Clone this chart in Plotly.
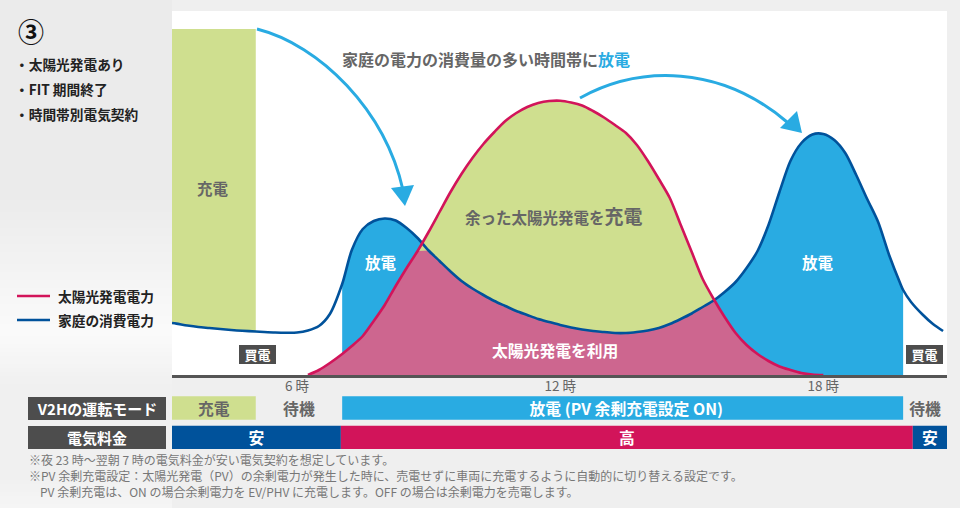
import numpy as np
import plotly.graph_objects as go

W, H = 960, 508
FONT = "Noto Sans CJK JP"

BLUE = "#29abe2"
NAVY = "#00529b"
CRIMSON = "#d2145a"
GREEN = "#cfdf8f"
PINK = "#cd668f"
DARK = "#4d4d4d"
GRAY = "#666666"

# hour of day, shared by both curves
hours = [3.15, 3.25, 3.5, 3.75, 4, 4.25, 4.5, 4.75, 5.06, 5.25, 5.5, 5.75, 6, 6.25, 6.5, 6.75,
         7.03, 7.25, 7.5, 7.75, 8, 8.25, 8.5, 8.75, 9, 9.25, 9.5, 9.75, 10, 10.25, 10.5, 10.75,
         11, 11.25, 11.5, 11.75, 12, 12.25, 12.5, 12.75, 13, 13.25, 13.5, 13.75, 14, 14.25, 14.5, 14.75,
         15, 15.25, 15.5, 15.75, 16, 16.25, 16.5, 16.75, 17, 17.25, 17.5, 17.75, 18, 18.25, 18.5, 18.75,
         19, 19.25, 19.5, 19.75, 19.82, 20, 20.25, 20.5, 20.73]

consumption = [.52, .514, .495, .48, .47, .46, .45, .442, .435, .43, .425, .423, .425, .445, .49, .61,
               .91, 1.25, 1.46, 1.54, 1.565, 1.545, 1.47, 1.37, 1.245, 1.14, 1.035, .94, .865, .80, .74, .69,
               .64, .60, .56, .53, .50, .475, .455, .44, .43, .42, .42, .43, .445, .47, .51, .56,
               .615, .68, .745, .83, .93, 1.07, 1.24, 1.50, 1.83, 2.14, 2.32, 2.405, 2.41, 2.35, 2.22, 2.00,
               1.76, 1.53, 1.20, .92, .85, .73, .61, .51, .44]

solar = [0, 0, 0, 0, 0, 0, 0, 0, 0, 0, 0, 0, 0, 0, .05, .12,
         .21, .29, .39, .54, .70, .89, 1.07, 1.24, 1.43, 1.63, 1.83, 2.01, 2.17, 2.31, 2.43, 2.54,
         2.62, 2.68, 2.72, 2.74, 2.743, 2.725, 2.695, 2.64, 2.575, 2.50, 2.42, 2.30, 2.14, 1.96, 1.77, 1.50,
         1.23, .96, .76, .58, .42, .30, .21, .14, .085, .05, .02, .005, 0, 0, 0, 0,
         0, 0, 0, 0, 0, 0, 0, 0, 0]

charge_level = 3.46

hour_ticks = [6, 12, 18]
hour_labels = ["6 時", "12 時", "18 時"]

mode_names = ["充電", "待機", "\u00a0\u00a0放電 (PV 余剰充電設定 ON)", "待機"]
mode_starts = [3.15, 5.06, 7.03, 19.82]
mode_ends = [5.06, 7.03, 19.82, 20.82]
mode_colors = [GREEN, "rgba(0,0,0,0)", BLUE, "rgba(0,0,0,0)"]
mode_text = [GRAY, GRAY, "white", GRAY]

price_names = ["安", "高", "安"]
price_starts = [3.15, 7.0, 20.04]
price_ends = [7.0, 20.04, 20.82]
price_colors = ["#00529b", "#d2145a", "#00529b"]

bg_y = [0, 200, 330, 385, 470, 508]
bg_left = [235, 236, 251, 240, 240, 246]


def px(x):
    return x / W


def py(y):
    return 1 - y / H


def path(*parts):
    out = []
    for p in parts:
        if isinstance(p, str):
            out.append(p)
        else:
            out.append(f"{px(p[0]):.5f} {py(p[1]):.5f}")
    return " ".join(out)


def rect(x0, y0, x1, y1, color):
    return dict(type="rect", xref="paper", yref="paper", x0=px(x0), x1=px(x1), y0=py(y0), y1=py(y1),
                fillcolor=color, line_width=0, layer="below")


def label(x, y, text, size, color=GRAY, anchor="center", bold=True, **kw):
    if bold:
        text = f"<b>{text}</b>"
    return dict(x=px(x), y=py(y), xref="paper", yref="paper", text=text, showarrow=False, xanchor=anchor,
                yanchor="middle", borderpad=0, borderwidth=0,
                font=dict(family=FONT, size=size, color=color), **kw)


h = np.array(hours)
cons = np.array(consumption)
sol = np.array(solar)

fig = go.Figure()

# green charge block above the house load
m = h <= mode_ends[0]
fig.add_trace(go.Scatter(x=list(h[m]) + list(h[m][::-1]), y=list(cons[m]) + [charge_level] * int(m.sum()),
                         fill="toself", fillcolor=GREEN, mode="none"))
# discharge area
m = (h >= mode_starts[2]) & (h <= mode_ends[2])
fig.add_trace(go.Scatter(x=h[m], y=cons[m], fill="tozeroy", fillcolor=BLUE, mode="none"))
# solar surplus, then the part used in the house on top of it
m = (h >= 6.25) & (h <= 18)
fig.add_trace(go.Scatter(x=h[m], y=sol[m], fill="tozeroy", fillcolor=GREEN, mode="none"))
fig.add_trace(go.Scatter(x=h[m], y=np.minimum(sol, cons)[m], fill="tozeroy", fillcolor=PINK, mode="none"))
# curves
fig.add_trace(go.Scatter(x=h, y=cons, mode="lines", name="家庭の消費電力",
                         line=dict(color=NAVY, width=2.6, shape="spline", smoothing=0.8)))
fig.add_trace(go.Scatter(x=h[m], y=sol[m], mode="lines", name="太陽光発電電力",
                         line=dict(color=CRIMSON, width=2.6, shape="spline", smoothing=0.8)))


def add_row(row, names, starts, ends, colors, text_colors):
    for name, s, e, c, tc in zip(names, starts, ends, colors, text_colors):
        fig.add_trace(go.Bar(y=[row], x=[e - s], base=[s], orientation="h", yaxis="y2", width=0.8,
                             marker=dict(color=c, line_width=0), text=[f"<b>{name}</b>"],
                             textposition="inside", insidetextanchor="middle", textangle=0,
                             constraintext="none", cliponaxis=False,
                             textfont=dict(family=FONT, size=15.8, color=tc)))


add_row(0, mode_names, mode_starts, mode_ends, mode_colors, mode_text)
add_row(1, price_names, price_starts, price_ends, price_colors, ["white"] * 3)

# page background, built up from thin bands
shapes = [rect(0, 0, W, H, "#efefef")]
for y in range(0, H, 4):
    g = int(np.interp(y, bg_y, bg_left))
    shapes.append(rect(0, y, 172, y + 4, f"rgb({g},{g},{g})"))
shapes.append(rect(172, 11, 947, 375, "white"))

# legend keys
for y, c in [(296, CRIMSON), (320, NAVY)]:
    shapes.append(dict(type="line", xref="paper", yref="paper", x0=px(17), x1=px(50), y0=py(y), y1=py(y),
                       line=dict(color=c, width=2.6)))

# arrows
shapes.append(dict(type="path", xref="paper", yref="paper", line=dict(color=BLUE, width=3),
                   path=path("M", (257, 29), "C", (320, 45), (385, 110), (403, 190))))
shapes.append(dict(type="path", xref="paper", yref="paper", fillcolor=BLUE, line_width=0,
                   path=path("M", (405, 206), "L", (391, 188), "L", (414, 185), "Z")))
shapes.append(dict(type="path", xref="paper", yref="paper", line=dict(color=BLUE, width=3),
                   path=path("M", (580, 98), "C", (640, 65), (720, 65), (787, 122))))
shapes.append(dict(type="path", xref="paper", yref="paper", fillcolor=BLUE, line_width=0,
                   path=path("M", (802, 133), "L", (780, 128), "L", (797, 111), "Z")))

notes = [
    "※夜 23 時～翌朝 7 時の電気料金が安い電気契約を想定しています。",
    "※PV 余剰充電設定：太陽光発電（PV）の余剰電力が発生した時に、売電せずに車両に充電するように自動的に切り替える設定です。",
    "PV 余剰充電は、ON の場合余剰電力を EV/PHV に充電します。OFF の場合は余剰電力を売電します。",
]

annotations = [
    label(18, 30, "③", 26, "#111111", "left"),
    label(14.5, 64, "・太陽光発電あり", 13.7, "#222222", "left"),
    label(14.5, 89, "・FIT 期間終了", 13.7, "#222222", "left"),
    label(14.5, 114, "・時間帯別電気契約", 13.7, "#222222", "left"),
    label(58, 296, "太陽光発電電力", 13.7, "#222222", "left"),
    label(58, 320, "家庭の消費電力", 13.7, "#222222", "left"),
    label(342, 59, f'家庭の電力の消費量の多い時間帯に<span style="color:{BLUE}">放電</span>', 16, GRAY, "left"),
    label(213, 188, "充電", 15.5, GRAY),
    label(381, 262, "放電", 15.5, "white"),
    label(818, 262, "放電", 15.5, "white"),
    label(465, 215, '余った太陽光発電を<span style="font-size:19px">充電</span>', 15.5, GRAY, "left"),
    label(555, 350, "太陽光発電を利用", 15.8, "white"),
    label(257, 354, "買電", 13, "white", bgcolor=DARK, width=37, height=19),
    label(924, 354, "買電", 13, "white", bgcolor=DARK, width=37, height=19),
    label(97, 408, "V2Hの運転モード", 15, "white", bgcolor=DARK, width=138, height=23),
    label(97, 437, "電気料金", 15, "white", bgcolor=DARK, width=138, height=23),
    label(29, 459, notes[0], 12, "#777777", "left", bold=False),
    label(29, 475, notes[1], 12, "#777777", "left", bold=False),
    label(40, 491, notes[2], 12, "#777777", "left", bold=False),
]

fig.update_layout(
    width=W, height=H, margin=dict(l=0, r=0, t=0, b=0),
    paper_bgcolor="#efefef", plot_bgcolor="rgba(0,0,0,0)",
    showlegend=False, barmode="overlay",
    shapes=shapes, annotations=annotations,
    xaxis=dict(domain=[px(172), px(947)], range=[3.15, 20.82], showgrid=False, zeroline=False,
               showline=True, linecolor="#555555", linewidth=3, ticks="",
               tickvals=hour_ticks, ticktext=hour_labels, ticklabelstandoff=-3,
               tickfont=dict(family=FONT, size=13.5, color=GRAY)),
    yaxis=dict(domain=[py(375), py(11)], range=[0, 3.64], visible=False),
    yaxis2=dict(domain=[py(452), py(393.4)], range=[1.5, -0.5], visible=False, anchor="free", position=0),
)

fig.write_html("out.html", post_script="document.body.style.margin='0';", config={"displayModeBar": False})
